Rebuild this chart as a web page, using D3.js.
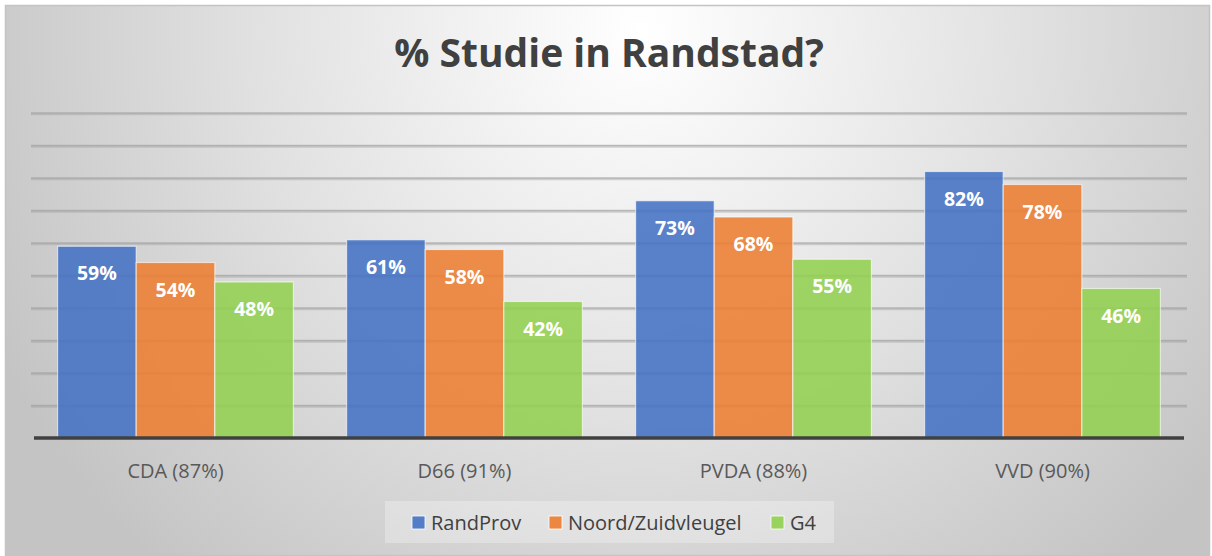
<!DOCTYPE html>
<html>
<head>
<meta charset="utf-8">
<script src="https://cdn.jsdelivr.net/npm/d3@7"></script>
<style>
  html, body { margin: 0; padding: 0; background: #ffffff; }
  svg { display: block; }
</style>
</head>
<body>
<script>
const categories = ["CDA (87%)", "D66 (91%)", "PVDA (88%)", "VVD (90%)"];
const seriesNames = ["RandProv", "Noord/Zuidvleugel", "G4"];
const randProv = [59, 61, 73, 82];
const noordZuid = [54, 58, 68, 78];
const g4 = [48, 42, 55, 46];
const yTicks = [0, 10, 20, 30, 40, 50, 60, 70, 80, 90, 100];
const colors = ["#4472c4", "#ed7d31", "#92d050"];
const title = "% Studie in Randstad?";

const W = 1212, H = 556;
const svg = d3.select("body").append("svg").attr("width", W).attr("height", H);
const defs = svg.append("defs");
const rg = defs.append("radialGradient").attr("id", "bg")
  .attr("gradientUnits", "userSpaceOnUse")
  .attr("cx", 640).attr("cy", 30).attr("r", 720);
rg.append("stop").attr("offset", 0).attr("stop-color", "#ffffff");
rg.append("stop").attr("offset", 0.55).attr("stop-color", "#e0e0e0");
rg.append("stop").attr("offset", 1).attr("stop-color", "#c4c4c4");

svg.append("rect").attr("x", 5.5).attr("y", 5.5).attr("width", 1204).attr("height", 550)
  .attr("fill", "url(#bg)").attr("stroke", "#c4c4c4").attr("stroke-width", 1.5);

const font = "'Open Sans', 'Noto Sans', sans-serif";
const plot = { left: 31, right: 1187, top: 113, bottom: 438 };

const y = d3.scaleLinear().domain([0, 100]).range([plot.bottom, plot.top]);
const x0 = d3.scaleBand().domain(categories).range([plot.left, plot.right]).padding(0);
const bw = x0.bandwidth();
const gap = bw * 0.092;
const x1 = d3.scaleBand().domain(seriesNames).range([gap, bw - gap]).padding(0);

// gridlines
const grid = svg.append("g");
yTicks.filter(t => t > 0).forEach(t => {
  grid.append("line").attr("x1", plot.left).attr("x2", plot.right)
    .attr("y1", y(t) + 1).attr("y2", y(t) + 1)
    .attr("stroke", "#9a9a9a").attr("stroke-opacity", 0.4).attr("stroke-width", 2.5);
  grid.append("line").attr("x1", plot.left).attr("x2", plot.right)
    .attr("y1", y(t)).attr("y2", y(t))
    .attr("stroke", "#a0a0a0").attr("stroke-opacity", 0.6).attr("stroke-width", 1.5);
});

// title
svg.append("text").attr("x", 609).attr("y", 67).attr("text-anchor", "middle")
  .attr("font-family", font).attr("font-weight", 700).attr("font-size", 39)
  .attr("fill", "#404040").text(title);

const seriesData = [randProv, noordZuid, g4];
const bars = svg.append("g");
categories.forEach((c, i) => {
  seriesData.forEach((arr, s) => {
    const v = arr[i];
    const bx = x0(c) + x1(seriesNames[s]);
    bars.append("rect").attr("x", bx).attr("y", y(v))
      .attr("width", x1.bandwidth()).attr("height", y(0) - y(v))
      .attr("fill", colors[s]).attr("fill-opacity", 0.88)
      .attr("stroke", "#ffffff").attr("stroke-opacity", 0.6).attr("stroke-width", 1.2);
    bars.append("text").attr("x", bx + x1.bandwidth() / 2).attr("y", y(v) + 34)
      .attr("text-anchor", "middle").attr("font-family", font).attr("font-weight", 700)
      .attr("font-size", 19.5).attr("fill", "#ffffff").text(v + "%");
  });
});

// axis
const xAxis = svg.append("g").attr("transform", `translate(0,${plot.bottom})`)
  .call(d3.axisBottom(x0).tickSize(0).tickPadding(0));
xAxis.select(".domain").attr("d", `M${plot.left + 3},0H${plot.right - 3}`)
  .attr("stroke", "#404040").attr("stroke-width", 3.5);
xAxis.selectAll(".tick text").attr("dy", null).attr("y", 40)
  .attr("font-family", font).attr("font-size", 20).attr("fill", "#595959");

// legend
const lg = svg.append("g");
lg.append("rect").attr("x", 385).attr("y", 501).attr("width", 449).attr("height", 42)
  .attr("fill", "#ffffff").attr("fill-opacity", 0.28);
const legendX = [412, 549, 771];
seriesNames.forEach((n, s) => {
  lg.append("rect").attr("x", legendX[s]).attr("y", 516).attr("width", 13).attr("height", 13)
    .attr("fill", colors[s]).attr("fill-opacity", 0.9).attr("stroke", "#ffffff").attr("stroke-width", 0.8);
  lg.append("text").attr("x", legendX[s] + 19).attr("y", 530)
    .attr("font-family", font).attr("font-size", 20).attr("fill", "#404040").text(n);
});
</script>
</body>
</html>
